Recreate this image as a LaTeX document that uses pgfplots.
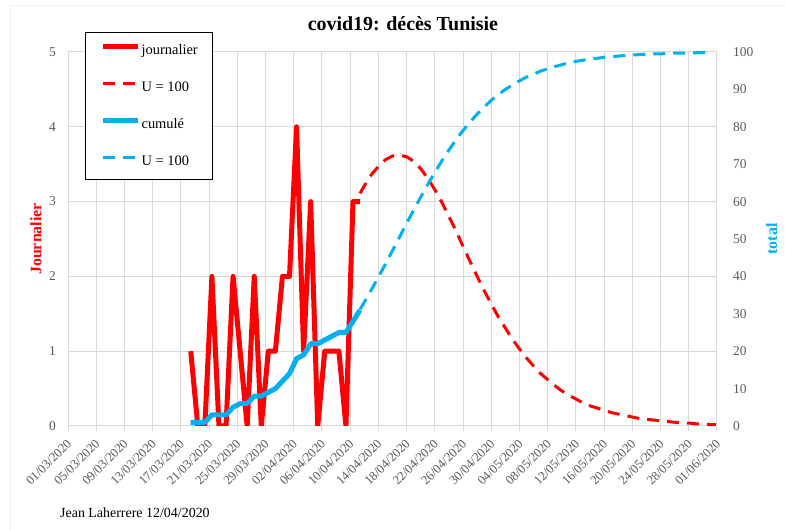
\documentclass[border=0pt]{standalone}
\usepackage{pgfplots}
\pgfplotsset{compat=1.18}
\usepackage{fontspec}
\setmainfont{Liberation Serif}
\definecolor{tickgray}{HTML}{595959}
\definecolor{gridgray}{HTML}{D9D9D9}
\definecolor{myblue}{HTML}{00B0F0}
\definecolor{myred}{HTML}{FF0000}
\newcommand\tickfont{\fontsize{13.5}{16}\selectfont}
\newcommand\xtickfont{\fontsize{12.8}{15}\selectfont}
\newcommand\legfont{\fontsize{14.5}{17}\selectfont}

\begin{document}
\begin{tikzpicture}
\useasboundingbox (0bp,0bp) rectangle (785bp,530bp);
\draw[gray!12, line width=0.8bp] (10bp,0bp) -- (10bp,525bp) -- (785bp,525bp);

\begin{axis}[
  at={(68bp,104bp)}, anchor=south west,
  scale only axis, width=649bp, height=374bp,
  xmin=0, xmax=92, ymin=0, ymax=5,
  /pgf/number format/assume math mode=true,
  axis line style={draw=gridgray, line width=1bp},
  grid=major, grid style={draw=gridgray, line width=1bp},
  xtick={0,4,...,92},
  xticklabels={01/03/2020,05/03/2020,09/03/2020,13/03/2020,17/03/2020,21/03/2020,25/03/2020,29/03/2020,02/04/2020,06/04/2020,10/04/2020,14/04/2020,18/04/2020,22/04/2020,26/04/2020,30/04/2020,04/05/2020,08/05/2020,12/05/2020,16/05/2020,20/05/2020,24/05/2020,28/05/2020,01/06/2020},
  ytick={0,1,...,5},
  xtick pos=left, ytick pos=left,
  tick align=outside, major tick length=5bp,
  xtick style={draw=gridgray, line width=1bp},
  ytick style={draw=none},
  x tick label style={yshift=-10bp, xshift=2bp, rotate=45, anchor=east, font=\xtickfont, text=tickgray, inner sep=1bp},
  y tick label style={font=\tickfont, text=tickgray, inner xsep=0bp, anchor=east, xshift=-7bp},
  ylabel={Journalier},
  ylabel style={at={(axis description cs:-0.0493,0.5)}, anchor=center, font=\bfseries\fontsize{16}{19}\selectfont, text=myred},
  title={covid19: décès Tunisie},
  title style={at={(axis description cs:0.516,1.059)}, anchor=center, font=\bfseries\fontsize{20}{23}\selectfont},
  legend image code/.code={\draw[#1, line cap=butt] (0bp,4.5bp) -- (35bp,4.5bp);},
  legend cell align=left,
  legend style={at={(axis description cs:0.0262,1.0535)}, anchor=north west,
    draw=black, line width=1.2bp, fill=white, inner xsep=15bp, inner ysep=11.5bp,
    font=\legfont, row sep=23.7bp,
    nodes={inner sep=0bp, text height=10bp, text depth=3bp},
    /tikz/every odd column/.append style={column sep=1bp}},
]
% journalier
\addplot[myred, line width=5bp, line join=round] coordinates {
(17.4,1) (18.4,0) (19.4,0) (20.4,2) (21.4,0) (22.4,0) (23.4,2) (24.4,1) (25.4,0) (26.4,2)
(27.4,0) (28.4,1) (29.4,1) (30.4,2) (31.4,2) (32.4,4) (33.4,1) (34.4,3) (35.4,0) (36.4,1)
(37.4,1) (38.4,1) (39.4,0) (40.4,3) (41.4,3)};
\addlegendentry{journalier}
% modèle U = 100
\addplot[myred, line width=3bp, dash pattern=on 12bp off 8bp] coordinates {
(41.4,3.11) (42,3.21) (43,3.36) (44,3.47) (45,3.56) (46,3.61) (47,3.62) (48,3.60)
(49,3.54) (50,3.44) (51,3.31) (52,3.16) (53,2.99) (54,2.80) (55,2.61) (56,2.40)
(57,2.20) (58,2.00) (59,1.81) (60,1.63) (61,1.46) (62,1.31) (63,1.16) (64,1.03)
(65,0.91) (66,0.80) (67,0.70) (68,0.62) (69,0.54) (70,0.47) (71,0.41) (72,0.36)
(73,0.31) (74,0.27) (75,0.24) (76,0.21) (77,0.18) (78,0.16) (79,0.14) (80,0.12)
(81,0.10) (82,0.09) (83,0.08) (84,0.07) (85,0.06) (86,0.05) (87,0.04) (88,0.04)
(89,0.03) (90,0.03) (91,0.02) (92,0.02)};
\addlegendentry{U = 100}
\addlegendimage{myblue, line width=5bp}
\addlegendentry{cumulé}
\addlegendimage{myblue, line width=3bp, dash pattern=on 12bp off 8bp}
\addlegendentry{U = 100}
\end{axis}

\begin{axis}[
  at={(68bp,104bp)}, anchor=south west,
  scale only axis, width=649bp, height=374bp,
  xmin=0, xmax=92, ymin=0, ymax=100,
  /pgf/number format/assume math mode=true,
  axis x line=none, axis y line*=right,
  axis line style={draw=gridgray, line width=1bp},
  ytick={0,10,...,100},
  ytick style={draw=none},
  y tick label style={font=\tickfont, text=tickgray, inner xsep=0bp, anchor=west, xshift=16bp},
  ylabel={total},
  ylabel style={at={(axis description cs:1.0843,0.5)}, anchor=center, rotate=0, font=\bfseries\fontsize{16}{19}\selectfont, text=myblue},
]
% cumulé
\addplot[myblue, line width=5bp, line join=round] coordinates {
(17.4,1) (18.4,1) (19.4,1) (20.4,3) (21.4,3) (22.4,3) (23.4,5) (24.4,6) (25.4,6) (26.4,8)
(27.4,8) (28.4,9) (29.4,10) (30.4,12) (31.4,14) (32.4,18) (33.4,19) (34.4,22) (35.4,22) (36.4,23)
(37.4,24) (38.4,25) (39.4,25) (40.4,28) (41.4,31)};
% modèle U = 100
\addplot[myblue, line width=3bp, dash pattern=on 12bp off 8bp] coordinates {
(41.4,31.2) (42,33.1) (43,36.4) (44,39.8) (45,43.3) (46,46.9) (47,50.5) (48,54.2)
(49,57.7) (50,61.2) (51,64.6) (52,67.8) (53,70.9) (54,73.8) (55,76.5) (56,79.0)
(57,81.3) (58,83.4) (59,85.3) (60,87.1) (61,88.6) (62,90.0) (63,91.2) (64,92.3)
(65,93.3) (66,94.1) (67,94.9) (68,95.5) (69,96.1) (70,96.6) (71,97.1) (72,97.5)
(73,97.8) (74,98.1) (75,98.3) (76,98.6) (77,98.7) (78,98.9) (79,99.1) (80,99.2)
(81,99.3) (82,99.4) (83,99.5) (84,99.5) (85,99.6) (86,99.7) (87,99.7) (88,99.7)
(89,99.8) (90,99.8) (91,99.8)};
\end{axis}

\node[anchor=west, font=\fontsize{14}{17}\selectfont, inner sep=0bp] at (60bp,17bp) {Jean Laherrere 12/04/2020};
\end{tikzpicture}
\end{document}
